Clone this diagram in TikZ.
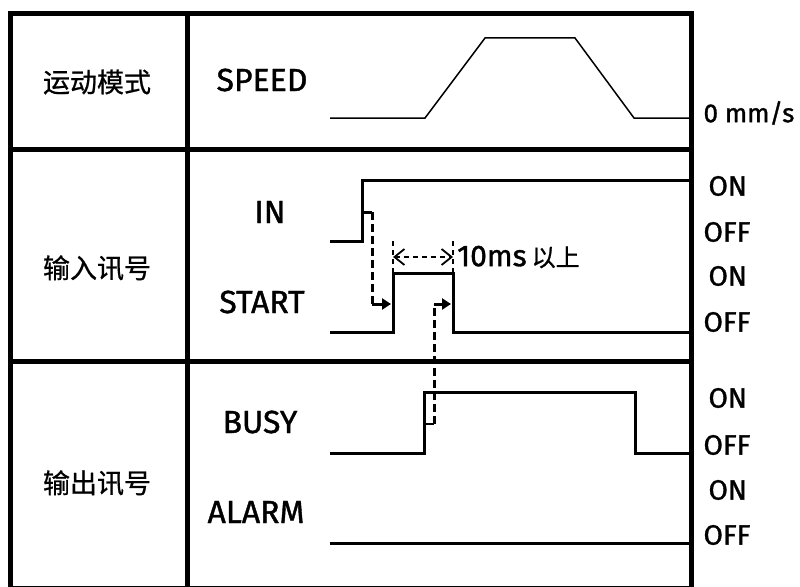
\documentclass[tikz,border=0pt]{standalone}
\usepackage{fontspec}
\setmainfont{Fira Sans}[FakeBold=1.2]
\newfontfamily\cjk{Noto Sans CJK SC}[FakeBold=0.8]
\usetikzlibrary{arrows.meta}

\begin{document}
\begin{tikzpicture}[x=1pt, y=-1pt,
  frame/.style={line width=5pt},
  wave/.style={line width=3pt},
  ramp/.style={line width=1.5pt},
  cue/.style={line width=3pt, dash pattern=on 8pt off 4pt},
  cuetip/.style={line width=3pt, -{Triangle[length=9pt, width=11pt]}},
  dimline/.style={line width=1.8pt, dash pattern=on 5pt off 4pt},
  rowlabel/.style={font=\cjk\fontsize{27}{30}\selectfont},
  signame/.style={font=\fontsize{32}{36}\selectfont},
  level/.style={font=\fontsize{28}{32}\selectfont, anchor=west}]

  \useasboundingbox (0,0) rectangle (800,586);

  % === Waveforms ===
  % SPEED profile
  \draw[ramp] (330,118) -- (425,118) -- (485,38) -- (575,38) -- (634,118) -- (691.5,118);
  % IN
  \draw[wave] (330,241) -- (362,241) -- (362,180) -- (691.5,180);
  % START
  \draw[wave] (330,332) -- (393,332) -- (393,273) -- (453,273) -- (453,332) -- (691.5,332);
  % BUSY
  \draw[wave] (330,453) -- (424,453) -- (424,392) -- (635,392) -- (635,453) -- (691.5,453);
  % ALARM
  \draw[wave] (330,543) -- (691.5,543);

  % === Cause -> effect cues ===
  \coordinate (inCue) at (372,212);
  \coordinate (inBend) at (372,304);
  \coordinate (startRise) at (391,304);
  \coordinate (busyCue) at (434,424);
  \coordinate (busyBend) at (434,304);
  \coordinate (startFall) at (451,304);

  \draw[wave] (362,212) -- (inCue);
  \draw[cue] (inCue) -- (inBend);
  \draw[cuetip] (inBend) -- (startRise);

  \draw[line width=1.5pt] (424,424) -- (busyCue);
  \draw[cue] (busyCue) -- (busyBend);
  \draw[cuetip] (busyBend) -- (startFall);

  % === Pulse width ===
  \coordinate (dimL) at (393,257);
  \coordinate (dimR) at (453,257);
  \draw[dimline] (393,273) -- (393,240);
  \draw[dimline] (453,273) -- (453,240);
  \draw[dimline, {Straight Barb[length=10pt, width=16pt]}-{Straight Barb[length=10pt, width=16pt]}] (dimL) -- (dimR);
  \node[anchor=west, inner sep=0pt, font=\fontsize{30}{33}\selectfont] (gapText) at (457,257)
    {10ms\,{\cjk\fontsize{24}{28}\selectfont 以上}};

  % === Table frame ===
  \draw[frame] (10,588) -- (10,13.5) -- (691.5,13.5) -- (691.5,588) -- cycle;
  \draw[frame] (187.5,13.5) -- (187.5,588);
  \draw[frame] (10,149) -- (691.5,149);
  \draw[frame] (10,361.5) -- (691.5,361.5);

  % === Labels ===
  \node[rowlabel] (modeLabel) at (97,82) {运动模式};
  \node[rowlabel] (inputLabel) at (97,268) {输入讯号};
  \node[rowlabel] (outputLabel) at (97,483) {输出讯号};

  \node[signame] (speedName) at (262,80) {SPEED};
  \node[signame] (inName) at (270,212) {IN};
  \node[signame] (startName) at (262,302) {START};
  \node[signame] (busyName) at (260,422) {BUSY};
  \node[signame] (alarmName) at (256,512) {ALARM};

  \node[level, font=\fontsize{26}{30}\selectfont] (zeroLvl) at (700,113) {0 mm/s};
  \node[level] (inOn) at (705,186) {ON};
  \node[level] (inOff) at (700,232) {OFF};
  \node[level] (startOn) at (705,276) {ON};
  \node[level] (startOff) at (700,322) {OFF};
  \node[level] (busyOn) at (705,398) {ON};
  \node[level] (busyOff) at (700,445) {OFF};
  \node[level] (alarmOn) at (705,490) {ON};
  \node[level] (alarmOff) at (700,535) {OFF};

\end{tikzpicture}
\end{document}
